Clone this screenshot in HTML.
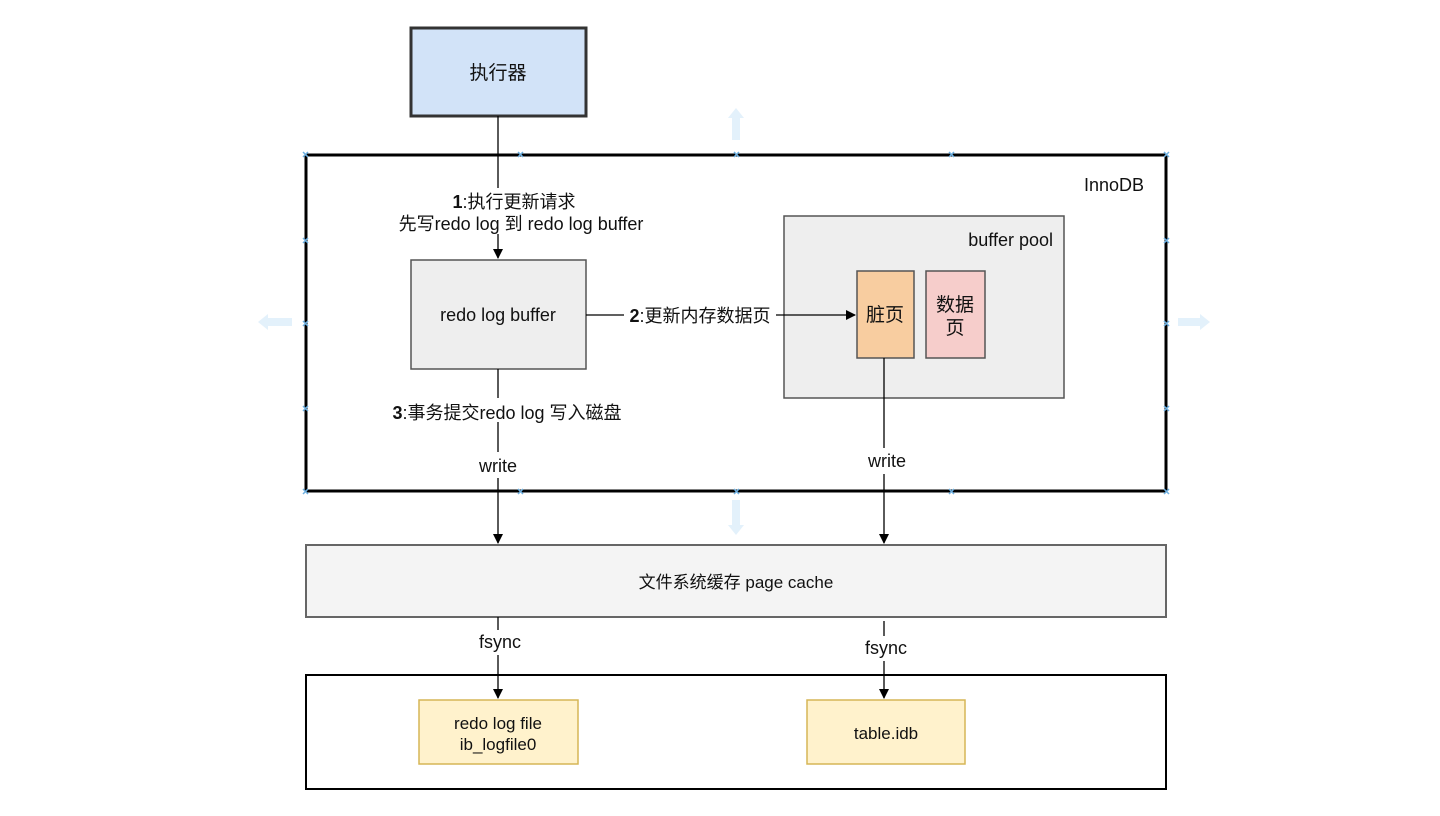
<!DOCTYPE html>
<html><head><meta charset="utf-8"><style>
body{margin:0;background:#fff}
svg text{font-family:"Liberation Sans","Noto Sans CJK SC",sans-serif;fill:#111}
</style></head><body>
<svg width="1440" height="811" viewBox="0 0 1440 811" xmlns="http://www.w3.org/2000/svg">
<defs><marker id="a" markerWidth="10" markerHeight="10" refX="9" refY="5" orient="auto" markerUnits="userSpaceOnUse"><path d="M0,0 L10,5 L0,10 Z" fill="#000"/></marker></defs>
<g fill="#e3f1fb">
<path d="M736,108 L744,118 L740,118 L740,140 L732,140 L732,118 L728,118 Z"/>
<path d="M736,535 L744,525 L740,525 L740,500 L732,500 L732,525 L728,525 Z"/>
<path d="M258,322 L268,314 L268,318 L292,318 L292,326 L268,326 L268,330 Z"/>
<path d="M1210,322 L1200,314 L1200,318 L1178,318 L1178,326 L1200,326 L1200,330 Z"/>
</g>
<rect x="411" y="28" width="175" height="88" fill="#d2e3f8" stroke="#333" stroke-width="3"/>
<text x="498" y="79" font-size="19" text-anchor="middle">执行器</text>
<rect x="306" y="155" width="860" height="336" fill="none" stroke="#000" stroke-width="3"/>
<g stroke="#6fb0e0" stroke-width="1.5">
<path d="M303,152l5,5m0-5l-5,5M518,152l5,5m0-5l-5,5M734,152l5,5m0-5l-5,5M949,152l5,5m0-5l-5,5M1164,152l5,5m0-5l-5,5M303,489l5,5m0-5l-5,5M518,489l5,5m0-5l-5,5M734,489l5,5m0-5l-5,5M949,489l5,5m0-5l-5,5M1164,489l5,5m0-5l-5,5M303,238l5,5m0-5l-5,5M303,321l5,5m0-5l-5,5M303,406l5,5m0-5l-5,5M1164,238l5,5m0-5l-5,5M1164,321l5,5m0-5l-5,5M1164,406l5,5m0-5l-5,5"/>
</g>
<text x="1144" y="191" font-size="18" text-anchor="end">InnoDB</text>
<rect x="411" y="260" width="175" height="109" fill="#eeeeee" stroke="#555" stroke-width="1.5"/>
<text x="498" y="321" font-size="18" text-anchor="middle">redo log buffer</text>
<rect x="784" y="216" width="280" height="182" fill="#eeeeee" stroke="#555" stroke-width="1.5"/>
<text x="1053" y="246" font-size="18" text-anchor="end">buffer pool</text>
<rect x="857" y="271" width="57" height="87" fill="#f8cda0" stroke="#555" stroke-width="1.5"/>
<text x="885" y="321" font-size="19" text-anchor="middle">脏页</text>
<rect x="926" y="271" width="59" height="87" fill="#f6cdcb" stroke="#555" stroke-width="1.5"/>
<text x="955" y="311" font-size="19" text-anchor="middle">数据</text>
<text x="955" y="334" font-size="19" text-anchor="middle">页</text>
<rect x="306" y="545" width="860" height="72" fill="#f4f4f4" stroke="#666" stroke-width="2"/>
<text x="736" y="588" font-size="17" text-anchor="middle" fill="#333">文件系统缓存 page cache</text>
<rect x="306" y="675" width="860" height="114" fill="none" stroke="#000" stroke-width="2"/>
<rect x="419" y="700" width="159" height="64" fill="#fff2cc" stroke="#d6b656" stroke-width="1.5"/>
<text x="498" y="729" font-size="17" text-anchor="middle">redo log file</text>
<text x="498" y="750" font-size="17" text-anchor="middle">ib_logfile0</text>
<rect x="807" y="700" width="158" height="64" fill="#fff2cc" stroke="#d6b656" stroke-width="1.5"/>
<text x="886" y="739" font-size="17" text-anchor="middle">table.idb</text>
<g stroke="#000" stroke-width="1.3" fill="none">
<path d="M498,116 V188"/><path d="M498,234 V258" marker-end="url(#a)"/>
<path d="M586,315 H624"/><path d="M776,315 H855" marker-end="url(#a)"/>
<path d="M498,369 V398"/><path d="M498,422 V452"/><path d="M498,478 V543" marker-end="url(#a)"/>
<path d="M884,358 V448"/><path d="M884,474 V543" marker-end="url(#a)"/>
<path d="M498,617 V630"/><path d="M498,655 V698" marker-end="url(#a)"/>
<path d="M884,621 V636"/><path d="M884,661 V698" marker-end="url(#a)"/>
</g>
<g font-size="18">
<text x="514" y="208" text-anchor="middle"><tspan font-weight="bold">1</tspan>:执行更新请求</text>
<rect x="390" y="212" width="262" height="22" fill="#fff"/>
<text x="521" y="230" text-anchor="middle">先写redo log 到 redo log buffer</text>
<text x="700" y="322" text-anchor="middle"><tspan font-weight="bold">2</tspan>:更新内存数据页</text>
<text x="507" y="419" text-anchor="middle"><tspan font-weight="bold">3</tspan>:事务提交redo log 写入磁盘</text>
<text x="498" y="472" text-anchor="middle">write</text>
<text x="887" y="467" text-anchor="middle">write</text>
<text x="500" y="648" text-anchor="middle">fsync</text>
<text x="886" y="654" text-anchor="middle">fsync</text>
</g>
</svg>
</body></html>
